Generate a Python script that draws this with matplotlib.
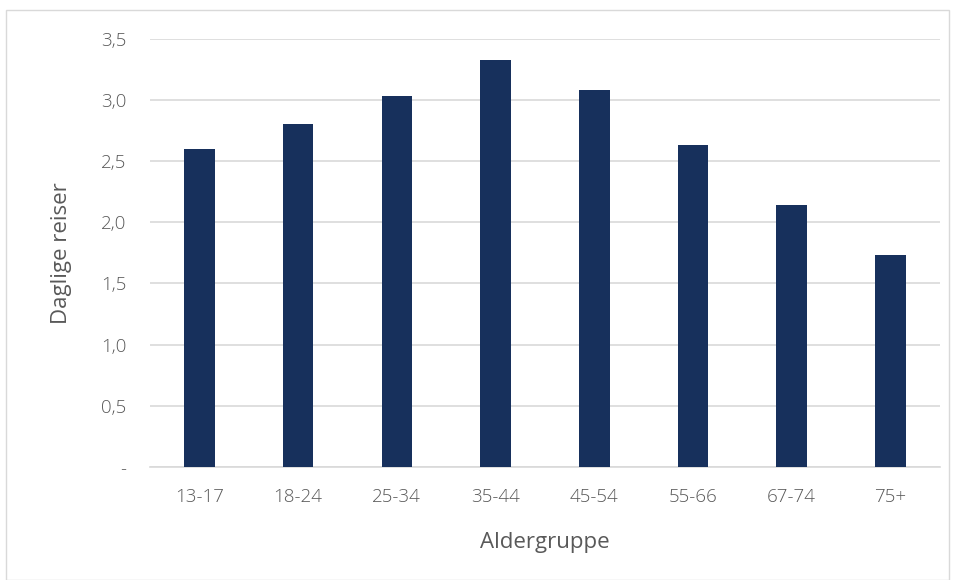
import matplotlib
matplotlib.use("Agg")
import matplotlib.pyplot as plt
from matplotlib.patches import Rectangle

# aldersgrupper og daglige reiser
groups = ["13-17", "18-24", "25-34", "35-44", "45-54", "55-66", "67-74", "75+"]
trips = [2.60, 2.80, 3.03, 3.33, 3.08, 2.63, 2.14, 1.73]
yticks = [0, 0.5, 1.0, 1.5, 2.0, 2.5, 3.0, 3.5]
ytick_labels = ["-", "0,5", "1,0", "1,5", "2,0", "2,5", "3,0", "3,5"]

plt.rcParams["font.family"] = ["Open Sans", "DejaVu Sans"]
plt.rcParams["font.weight"] = "light"
text_color = "#595959"

fig = plt.figure(figsize=(9.56, 5.8), dpi=100)
ax = fig.add_axes([0.157, 0.195, 0.826, 0.738])

ax.bar(range(len(groups)), trips, width=0.31, color="#17305C", zorder=3)

ax.set_ylim(0, 3.5)
ax.set_xlim(-0.5, len(groups) - 0.5)
ax.set_yticks(yticks)
ax.set_yticklabels(ytick_labels)
ax.set_xticks(range(len(groups)))
ax.set_xticklabels(groups)
ax.grid(axis="y", color="#D9D9D9", linewidth=1.2, zorder=0)
for s in ["top", "right", "left"]:
    ax.spines[s].set_visible(False)
ax.spines["bottom"].set_color("#D9D9D9")
ax.spines["bottom"].set_linewidth(1.2)
ax.tick_params(axis="both", length=0, labelsize=13.5, colors=text_color)
ax.tick_params(axis="x", pad=15)
ax.tick_params(axis="y", pad=17)

ax.set_xlabel("Aldergruppe", fontsize=16, color=text_color, labelpad=19)
ax.set_ylabel("Daglige reiser", fontsize=16, color=text_color, labelpad=21)

# ramme rundt figuren
fig.patches.append(Rectangle((0.006, 0.0), 0.987, 0.983, transform=fig.transFigure,
                             fill=False, edgecolor="#D9D9D9", linewidth=1))

fig.savefig("out.png", dpi=100)
